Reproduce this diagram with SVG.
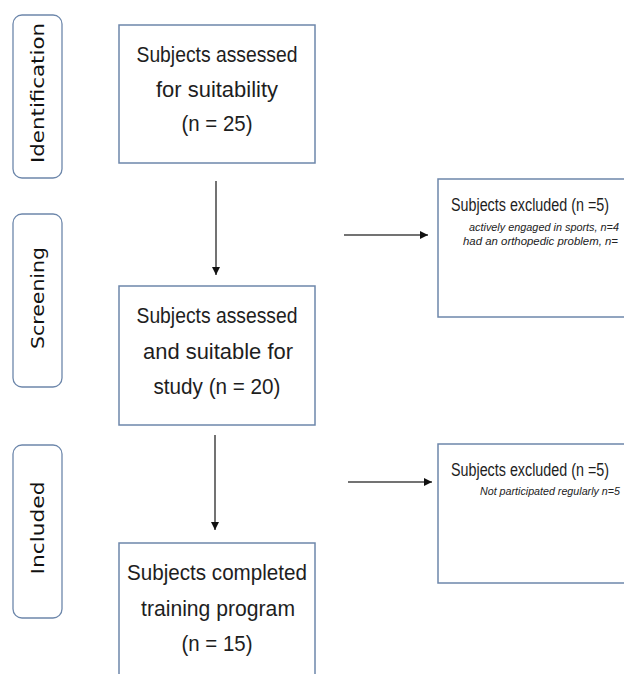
<svg xmlns="http://www.w3.org/2000/svg" width="624" height="674" viewBox="0 0 624 674">
<style>
.box{fill:#fff;stroke:#6d87ab;stroke-width:1.5}
.side{fill:#fff;stroke:#6d87ab;stroke-width:1.3}
.main{font-family:"Liberation Sans",Arial,sans-serif;font-size:22px;fill:#1e1e1e;text-anchor:middle}
.stage{font-family:"DejaVu Sans","Open Sans",sans-serif;font-size:17.5px;fill:#111;text-anchor:middle}
.head{font-family:"Liberation Sans",Arial,sans-serif;font-size:18px;fill:#1e1e1e}
.sub{font-family:"Liberation Sans",Arial,sans-serif;font-size:10.5px;font-style:italic;fill:#222}
.conn{stroke:#444;stroke-width:1.5;fill:none}
</style>
<defs>
<marker id="ah" viewBox="0 0 10 10" refX="10" refY="5" markerWidth="8" markerHeight="8" markerUnits="userSpaceOnUse" orient="auto">
<path d="M0,0 L10,5 L0,10 z" fill="#111"/>
</marker>
</defs>
<rect width="624" height="674" fill="#fff"/>
<g id="stage-identification">
<rect class="side" x="13" y="15" width="49" height="163" rx="9"/>
<text class="stage" transform="translate(43.5,93) rotate(-90)" textLength="140" lengthAdjust="spacingAndGlyphs">Identification</text>
</g>
<g id="stage-screening">
<rect class="side" x="13" y="214" width="49" height="173" rx="9"/>
<text class="stage" transform="translate(43.5,298) rotate(-90)" textLength="102" lengthAdjust="spacingAndGlyphs">Screening</text>
</g>
<g id="stage-included">
<rect class="side" x="13" y="445" width="49" height="173" rx="9"/>
<text class="stage" transform="translate(43.5,528) rotate(-90)" textLength="93" lengthAdjust="spacingAndGlyphs">Included</text>
</g>
<g id="assessed">
<rect class="box" x="119" y="25" width="196" height="138"/>
<text class="main" x="217" y="62" textLength="161" lengthAdjust="spacingAndGlyphs">Subjects assessed</text>
<text class="main" x="217" y="97" textLength="122" lengthAdjust="spacingAndGlyphs">for suitability</text>
<text class="main" x="217" y="131" textLength="71" lengthAdjust="spacingAndGlyphs">(n = 25)</text>
</g>
<g id="suitable">
<rect class="box" x="119" y="286" width="196" height="139"/>
<text class="main" x="217" y="323" textLength="161" lengthAdjust="spacingAndGlyphs">Subjects assessed</text>
<text class="main" x="218" y="359" textLength="150" lengthAdjust="spacingAndGlyphs">and suitable for</text>
<text class="main" x="217" y="394" textLength="127" lengthAdjust="spacingAndGlyphs">study (n = 20)</text>
</g>
<g id="completed">
<rect class="box" x="119" y="543" width="196" height="140"/>
<text class="main" x="217" y="580" textLength="180" lengthAdjust="spacingAndGlyphs">Subjects completed</text>
<text class="main" x="218" y="616" textLength="154" lengthAdjust="spacingAndGlyphs">training program</text>
<text class="main" x="217" y="651" textLength="71" lengthAdjust="spacingAndGlyphs">(n = 15)</text>
</g>
<g id="excluded1">
<rect class="box" x="438" y="179" width="200" height="138"/>
<text class="head" x="451" y="211" textLength="158" lengthAdjust="spacingAndGlyphs">Subjects excluded (n =5)</text>
<text class="sub" x="469" y="231" textLength="150" lengthAdjust="spacingAndGlyphs">actively engaged in sports, n=4</text>
<text class="sub" x="463" y="245" textLength="155" lengthAdjust="spacingAndGlyphs">had an orthopedic problem, n=</text>
</g>
<g id="excluded2">
<rect class="box" x="438" y="444" width="200" height="139"/>
<text class="head" x="451" y="476" textLength="158" lengthAdjust="spacingAndGlyphs">Subjects excluded (n =5)</text>
<text class="sub" x="480" y="495" textLength="140" lengthAdjust="spacingAndGlyphs">Not participated regularly n=5</text>
</g>
<g id="connectors">
<line class="conn" x1="216" y1="181" x2="216" y2="275" marker-end="url(#ah)"/>
<line class="conn" x1="215" y1="435" x2="215" y2="530" marker-end="url(#ah)"/>
<line class="conn" x1="344" y1="235" x2="428" y2="235" marker-end="url(#ah)"/>
<line class="conn" x1="348" y1="482" x2="432" y2="482" marker-end="url(#ah)"/>
</g>
</svg>
